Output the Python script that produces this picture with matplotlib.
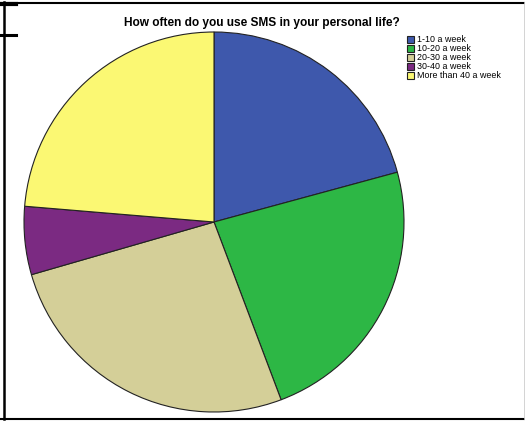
import matplotlib
matplotlib.use("Agg")
import matplotlib.pyplot as plt

plt.rcParams["font.family"] = ["Liberation Sans", "DejaVu Sans"]

title = "How often do you use SMS in your personal life?"
categories = ["1-10 a week", "10-20 a week", "20-30 a week", "30-40 a week", "More than 40 a week"]
shares = [20.8, 23.5, 26.3, 5.8, 23.7]
colors = ["#3e58ac", "#2db745", "#d4cf98", "#7b2a82", "#fbf873"]

W, H = 525, 421
figure = plt.figure(figsize = (W / 100, H / 100), dpi = 100)
axes = figure.add_axes([0, 0, 1, 1])

wedges, _ = axes.pie(shares, colors = colors, startangle = 90, counterclock = False,
                     center = (214, H - 222), radius = 190, frame = True,
                     wedgeprops = {"edgecolor": "#222222", "linewidth": 0.8})
axes.set_xlim(0, W)
axes.set_ylim(0, H)
axes.set_aspect("equal")
axes.axis("off")

figure.text(262 / W, 1 - 23 / H, title, ha = "center", va = "center",
            fontsize = 8.6, fontweight = "bold")

axes.legend(wedges, categories, loc = "upper left", bbox_to_anchor = (401 / W, 1 - 29 / H),
            frameon = False, fontsize = 6.4, handlelength = 0.8, handleheight = 0.8,
            handletextpad = 0.3, labelspacing = 0.0, borderpad = 0.2)

# frame lines of the original output window
line = {"color": "black", "transform": figure.transFigure, "clip_on": False}
axes.plot([0, 1], [1 - 2.5 / H, 1 - 2.5 / H], linewidth = 1.5, **line)
axes.plot([0, 1], [1 - 419 / H, 1 - 419 / H], linewidth = 1.5, **line)
axes.plot([3.5 / W, 3.5 / W], [1 - 2 / H, 1 - 419 / H], linewidth = 1.8, **line)
axes.plot([0, 16 / W], [1 - 3.5 / H, 1 - 3.5 / H], linewidth = 3, **line)
axes.plot([0, 16 / W], [1 - 35 / H, 1 - 35 / H], linewidth = 2.2, **line)
axes.plot([523.5 / W, 523.5 / W], [1 - 2 / H, 1 - 419 / H], linewidth = 0.6, color = "#cccccc",
          transform = figure.transFigure, clip_on = False)

figure.savefig("out.png", dpi = 100)
